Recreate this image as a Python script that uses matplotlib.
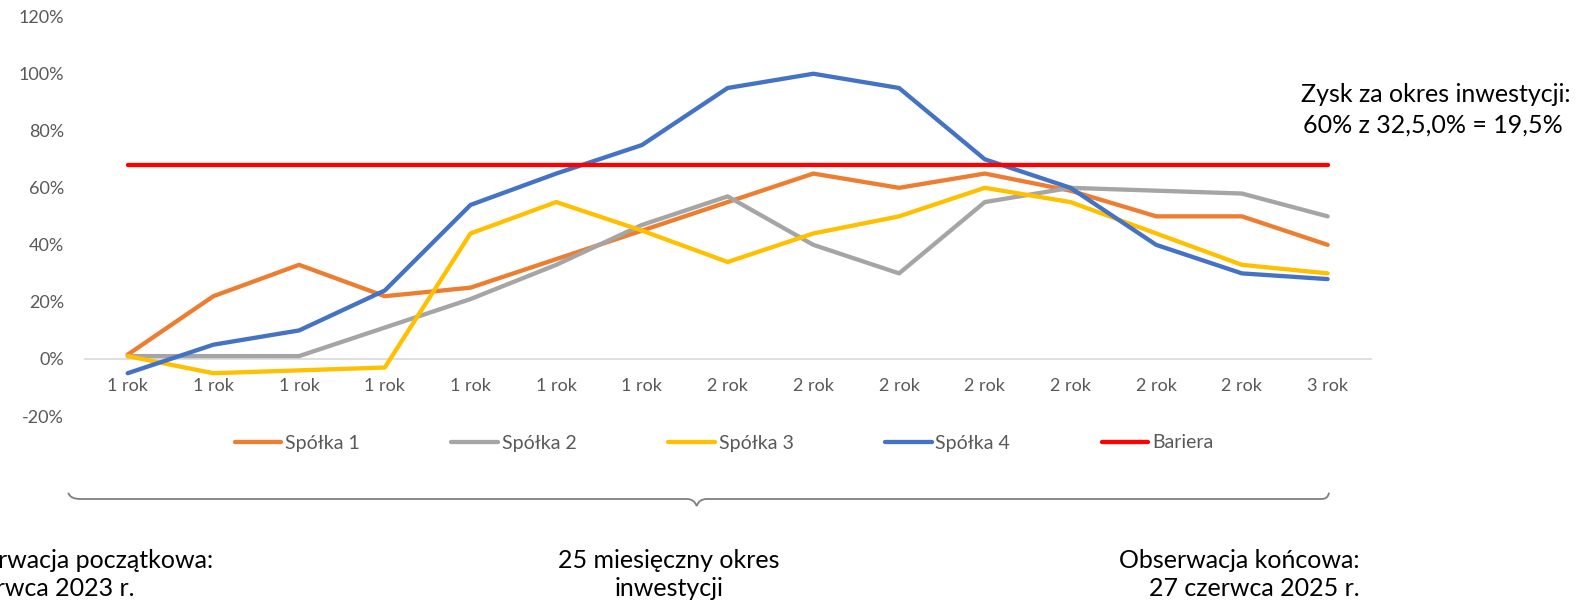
import numpy as np
import matplotlib.pyplot as plt
from matplotlib.path import Path
from matplotlib.patches import PathPatch

plt.rcParams['font.family'] = ['Lato', 'DejaVu Sans']

categories = ['1 rok'] * 7 + ['2 rok'] * 7 + ['3 rok']
spolka1 = [1.5, 22, 33, 22, 25, 35, 45, 55, 65, 60, 65, 59, 50, 50, 40]
spolka2 = [1, 1, 1, 11, 21, 33, 47, 57, 40, 30, 55, 60, 59, 58, 50]
spolka3 = [1, -5, -4, -3, 44, 55, 45, 34, 44, 50, 60, 55, 44, 33, 30]
spolka4 = [-5, 5, 10, 24, 54, 65, 75, 95, 100, 95, 70, 60, 40, 30, 28]
bariera = [68] * 15
yticks = [-20, 0, 20, 40, 60, 80, 100, 120]

series = [('Spółka 1', spolka1, '#ED7D31'),
          ('Spółka 2', spolka2, '#A5A5A5'),
          ('Spółka 3', spolka3, '#FFC000'),
          ('Spółka 4', spolka4, '#4472C4'),
          ('Bariera', bariera, '#FF0000')]

W, H = 1580, 607
fig = plt.figure(figsize=(W / 100, H / 100), dpi=100)


def fx(x):
    return x / W


def fy(y):
    return 1 - y / H


ax = fig.add_axes([fx(84.8), fy(416), (1370.5 - 84.8) / W, (416 - 16.7) / H])

x = np.arange(len(categories))
for name, vals, col in series:
    ax.plot(x, vals, color=col, lw=3.1, label=name,
            solid_capstyle='round', solid_joinstyle='round')

ax.set_xlim(-0.5, len(categories) - 0.5)
ax.set_ylim(-20, 120)
ax.set_yticks(yticks)
ax.set_yticklabels([f'{v}%' for v in yticks])
ax.set_xticks(x)
ax.set_xticklabels(categories)

for s in ['top', 'right', 'left']:
    ax.spines[s].set_visible(False)
ax.spines['bottom'].set_position(('data', 0))
ax.spines['bottom'].set_color('#D9D9D9')
ax.spines['bottom'].set_linewidth(1.2)
ax.spines['bottom'].set_zorder(0)
ax.tick_params(axis='y', length=0, pad=15, labelsize=13, labelcolor='#595959')
ax.tick_params(axis='x', length=0, pad=14, labelsize=13, labelcolor='#595959')

leg = ax.legend(loc='center', bbox_to_anchor=(fx(724), fy(443)),
                bbox_transform=fig.transFigure, ncol=5, frameon=False,
                fontsize=14, handlelength=2.4, handletextpad=0.2,
                columnspacing=4.7)
for t in leg.get_texts():
    t.set_color('#595959')

# brace under the chart
verts = [(68.3, 492.7), (70, 499), (80, 499), (687, 499),
         (694, 499), (696.7, 506), (699, 499), (706.7, 499),
         (1321.7, 499), (1328, 499), (1329, 492.7)]
codes = [Path.MOVETO, Path.CURVE3, Path.CURVE3, Path.LINETO,
         Path.CURVE3, Path.CURVE3, Path.CURVE3, Path.CURVE3,
         Path.LINETO, Path.CURVE3, Path.CURVE3]
brace = Path([(fx(a), fy(b)) for a, b in verts], codes)
fig.patches.append(PathPatch(brace, transform=fig.transFigure, fill=False,
                             edgecolor='#7F7F7F', lw=1.3))

tk = dict(fontsize=18, color='black', va='center')
fig.text(fx(1436), fy(95), 'Zysk za okres inwestycji:', ha='center', **tk)
fig.text(fx(1433), fy(125), '60% z 32,5,0% = 19,5%', ha='center', **tk)

fig.text(fx(213), fy(561), 'Obserwacja początkowa:', ha='right', **tk)
fig.text(fx(134), fy(589), '27 czerwca 2023 r.', ha='right', **tk)

fig.text(fx(669), fy(561), '25 miesięczny okres', ha='center', **tk)
fig.text(fx(669), fy(589), 'inwestycji', ha='center', **tk)

fig.text(fx(1360), fy(561), 'Obserwacja końcowa:', ha='right', **tk)
fig.text(fx(1360), fy(589), '27 czerwca 2025 r.', ha='right', **tk)

fig.savefig('out.png', dpi=100)
